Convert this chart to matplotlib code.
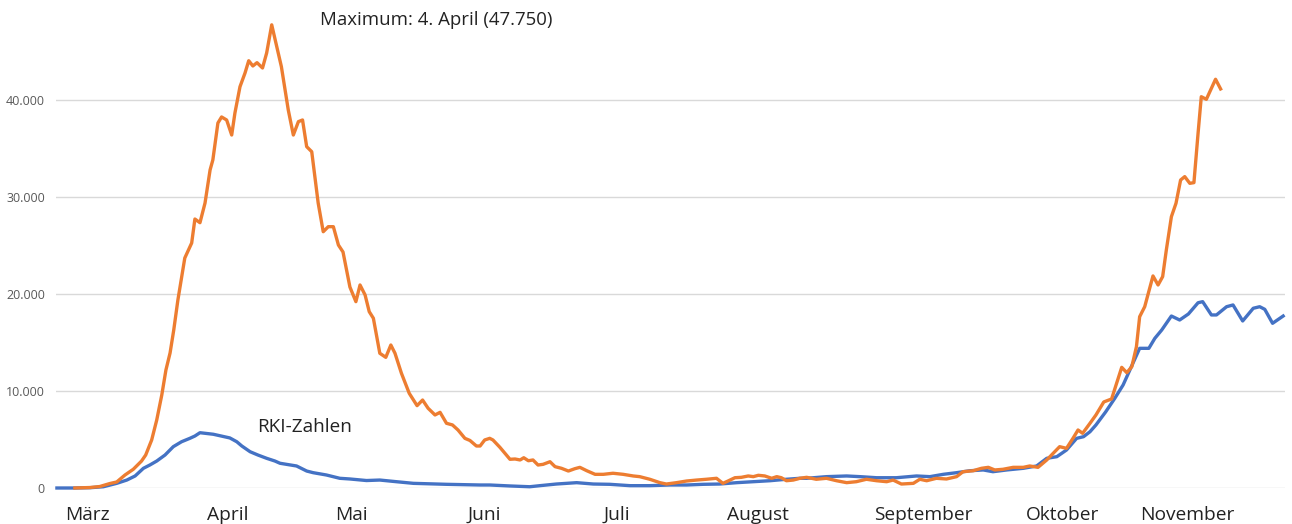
import matplotlib.pyplot as plt
from matplotlib.ticker import FuncFormatter

# day index (0 = first day shown)
orange_days = [3.9, 7.2, 9.3, 11.5, 13.0, 14.8, 16.6, 18.4, 19.3, 20.6, 21.7, 22.8, 23.7, 24.6, 25.4, 26.3,
               27.8, 29.3, 30.0, 31.1, 32.2, 33.3, 33.9, 35.0, 35.8, 36.9, 38.0, 38.7, 39.8, 40.9, 41.7,
               42.6, 43.5, 44.7, 45.6, 46.7, 47.8, 48.8, 50.3, 51.4, 52.5, 53.4, 54.3, 55.4, 56.8, 57.9,
               59.0, 60.1, 61.2, 62.2, 63.7, 65.0, 65.9, 67.0, 67.9, 68.8, 70.2, 71.5, 72.6, 73.5, 74.9,
               76.6, 78.3, 79.5, 80.7, 82.2, 83.3, 84.7, 86.0, 87.2, 88.7, 89.8, 91.2, 92.0, 93.0, 94.1,
               94.8, 96.3, 97.4, 98.5, 99.6, 100.7, 101.5, 102.5, 103.5, 104.6, 105.7, 107.2, 108.3,
               109.7, 111.2, 112.6, 113.7, 115.2, 117.0, 118.8, 120.9, 123.1, 125.3, 126.7, 128.9,
               131.1, 132.5, 134.7, 136.9, 139.1, 141.2, 143.4, 144.8, 145.9, 147.4, 148.8, 150.3,
               151.4, 152.5, 153.9, 155.4, 156.5, 157.5, 158.6, 160.1, 161.5, 163.0, 165.1, 167.3,
               169.5, 171.7, 173.8, 176.0, 178.2, 180.4, 181.8, 183.6, 186.2, 187.6, 189.1, 191.2,
               193.4, 195.6, 197.0, 199.2, 201.0, 202.5, 203.9, 205.7, 207.9, 210.1, 211.5, 213.3,
               215.2, 216.6, 218.0, 219.5, 220.9, 222.0, 223.0, 224.6, 225.9, 227.6, 229.3, 231.5,
               232.6, 233.7, 234.7, 235.4, 236.5, 238.3, 239.4, 240.4, 241.2, 242.3, 243.3, 244.3,
               245.2, 246.3, 247.2, 248.1, 248.8, 249.9, 251.0, 251.9, 253.0]
orange_vals = [0, 50, 150, 460, 620, 1340, 1930, 2780, 3400, 4950, 7010, 9590, 12170, 13920, 16290, 19380,
               23710, 25260, 27730, 27350, 29380, 32790, 33820, 37630, 38250, 37940, 36390, 38660, 41370,
               42790, 44050, 43510, 43850, 43300, 44850, 47750, 45500, 43440, 38970, 36390, 37770, 37940,
               35190, 34670, 29380, 26420, 26940, 26940, 25050, 24330, 20720, 19210, 20930, 19900, 18180,
               17500, 13890, 13470, 14740, 13890, 11830, 9760, 8490, 9070, 8220, 7530, 7800, 6670, 6500,
               5980, 5120, 4900, 4330, 4330, 4950, 5120, 4950, 4200, 3580, 2960, 2990, 2890, 3120, 2810,
               2890, 2370, 2440, 2710, 2200, 2030, 1750, 1990, 2130, 1780, 1410, 1410, 1520, 1410, 1240,
               1170, 900, 550, 410, 550, 720, 820, 900, 1000, 480, 720, 1060, 1100, 1240, 1170, 1310,
               1240, 1000, 1170, 1060, 750, 820, 1000, 1100, 900, 1000, 750, 550, 650, 900, 750, 650,
               820, 410, 480, 900, 750, 1000, 930, 1170, 1680, 1780, 2030, 2130, 1860, 1930, 2130, 2130,
               2270, 2130, 2890, 3580, 4260, 4090, 5120, 5980, 5640, 6670, 7530, 8870, 9180, 12440,
               11890, 12510, 14570, 17660, 18690, 21860, 20930, 21790, 24540, 27970, 29350, 31750,
               32100, 31410, 31480, 36570, 40340, 40070, 41210, 42140, 41140]

rki_days = [0, 3.9, 7.2, 10.1, 13.0, 15.2, 17.0, 18.8, 20.2, 21.7, 23.5, 25.3, 27.1, 28.9, 30.0, 31.1,
            34.0, 37.6, 39.1, 40.2, 42.0, 43.7, 45.6, 47.4, 48.5, 49.9, 52.1, 54.3, 55.7, 58.6, 61.5,
            63.7, 67.3, 70.2, 73.8, 77.5, 84.7, 92.0, 94.1, 98.5, 102.8, 105.0, 108.6, 113.0, 116.6,
            120.2, 124.6, 128.9, 133.3, 136.9, 140.5, 144.1, 147.8, 151.4, 155.0, 158.6, 161.5, 163.0,
            167.3, 171.7, 174.6, 178.2, 182.5, 186.9, 189.8, 192.7, 195.6, 198.5, 201.4, 203.5, 206.5,
            210.1, 213.0, 215.2, 217.4, 219.5, 221.7, 223.2, 224.6, 225.9, 228.0, 230.0, 231.8, 233.6,
            235.4, 237.4, 238.7, 240.2, 242.3, 244.1, 246.0, 248.1, 249.1, 251.0, 252.1, 254.3, 255.7,
            257.8, 260.1, 261.5, 262.6, 264.3, 266.6]
rki_vals = [0, 0, 30, 130, 480, 820, 1240, 2030, 2370, 2780, 3400, 4260, 4770, 5120, 5360, 5700,
            5540, 5160, 4770, 4330, 3740, 3400, 3060, 2780, 2550, 2440, 2270, 1750, 1580, 1340, 1000,
            930, 770, 820, 650, 480, 380, 310, 310, 210, 130, 240, 410, 550, 410,
            380, 240, 240, 310, 310, 380, 410, 550, 650, 750, 900, 1000, 1000,
            1170, 1240, 1170, 1060, 1060, 1240, 1170, 1410, 1580, 1780, 1860, 1680, 1860,
            2030, 2270, 3060, 3230, 3920, 5120, 5290, 5800, 6500, 7840, 9250, 10620, 12510,
            14400, 14400, 15430, 16290, 17730, 17320, 17940, 19100, 19210, 17840, 17840, 18690, 18870,
            17220, 18530, 18690, 18420, 16980, 17730]

months = ['März', 'April', 'Mai', 'Juni', 'Juli', 'August', 'September', 'Oktober', 'November']
month_pos = [6.7, 37.2, 64.1, 93.0, 121.7, 152.4, 188.3, 218.7, 245.7]
y_ticks = [0, 10000, 20000, 30000, 40000]

plt.rcParams['font.family'] = ['Open Sans', 'DejaVu Sans']

fig = plt.figure(figsize=(12.92, 5.24), dpi=100)
ax = fig.add_axes([56 / 1292, 36 / 524, 1229 / 1292, 485 / 524])

ax.plot(rki_days, rki_vals, color='#4472C4', linewidth=2.4, clip_on=False, solid_joinstyle='round', zorder=3)
ax.plot(orange_days, orange_vals, color='#ED7D31', linewidth=2.4, clip_on=False, solid_joinstyle='round', zorder=4)

ax.set_xlim(-0.2, 267)
ax.set_ylim(0, 50000)
ax.set_yticks(y_ticks)
ax.yaxis.set_major_formatter(FuncFormatter(lambda v, p: f'{int(v):,}'.replace(',', '.')))
ax.tick_params(axis='y', length=0, pad=8, labelsize=9, labelcolor='#595959')
ax.set_xticks(month_pos)
ax.set_xticklabels(months)
ax.tick_params(axis='x', length=0, pad=13, labelsize=13.8, labelcolor='#222222')
ax.grid(axis='y', color='#d9d9d9', linewidth=1)
ax.set_axisbelow(True)
for s in ax.spines.values():
    s.set_visible(False)

ax.text(57.2, 48250, 'Maximum: 4. April (47.750)', fontsize=13.4, color='#222222', va='center', ha='left')
ax.text(43.6, 6300, 'RKI-Zahlen', fontsize=13.6, color='#222222', va='center', ha='left')

plt.savefig('out.png', dpi=100)
